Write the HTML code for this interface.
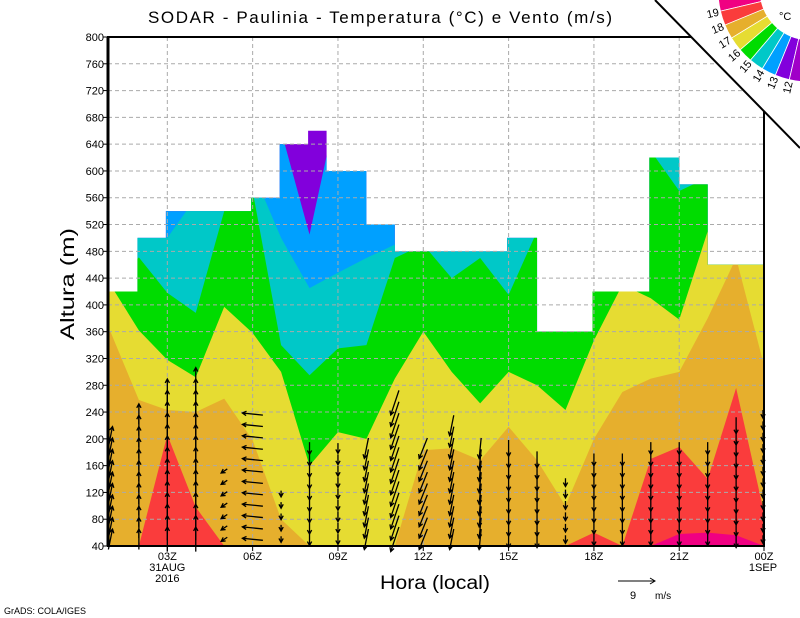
<!DOCTYPE html>
<html><head><meta charset="utf-8"><title>SODAR - Paulinia</title>
<style>html,body{margin:0;padding:0;background:#fff;}svg{display:block;font-family:"Liberation Sans",sans-serif;}</style>
</head><body>
<svg id="chart" width="800" height="618" viewBox="0 0 800 618" xmlns="http://www.w3.org/2000/svg">
<defs><clipPath id="ceilClip"><polygon id="ceilPoly" points="0,0"/></clipPath></defs>
<g id="fills" clip-path="url(#ceilClip)"></g>
<g id="grid"></g>
<g id="winds"></g>
<g id="axes"></g>
<text x="148" y="23" font-size="17" textLength="464" lengthAdjust="spacing">SODAR - Paulinia - Temperatura (°C) e Vento (m/s)</text>
<text transform="translate(74,340) rotate(-90)" font-size="19" textLength="112" lengthAdjust="spacingAndGlyphs">Altura (m)</text>
<text x="380" y="589" font-size="19" textLength="110" lengthAdjust="spacingAndGlyphs">Hora (local)</text>
<g>
<line x1="618" y1="581" x2="655" y2="581" stroke="#000" stroke-width="1"/>
<polyline points="650,578 655,581 650,584" fill="none" stroke="#000"/>
<text x="630" y="599" font-size="11">9</text><text x="655" y="599" font-size="10">m/s</text>
</g>
<text x="4" y="614" font-size="9">GrADS: COLA/IGES</text>
<polygon points="655,0 800,0 800,148" fill="#fff"/>
<line x1="655" y1="0" x2="800" y2="148" stroke="#000" stroke-width="2"/>
<g id="legend"></g>
<text x="779" y="20" font-size="11">°C</text>
</svg>
<script>
// ---- data ----
const hours = [1,2,3,4,5,6,7,8,9,10,11,12,13,14,15,16,17,18,19,20,21,22,23,24];
const ceilEdges = [0.92,1.95,2.95,5.95,6.95,7.95,8.6,10,11,14.95,16,17.95,19.95,21,22,23.95];
const ceilHeights = [420,500,540,560,640,660,600,520,480,500,360,420,620,580,460];
const iso14 = [900,900,900,900,900,900,660,505,700,900,900,900,900,900,900,900,900,900,900,900,900,900,900,900];
const iso15 = [900,510,500,560,600,600,500,425,448,470,490,900,900,900,900,900,900,900,900,900,900,900,900,900];
const iso16 = [430,471,418,388,540,570,340,295,335,340,470,490,440,470,415,510,400,430,430,630,570,590,470,470];
const iso17 = [430,362,318,292,397,358,300,160,210,200,290,360,300,253,300,280,243,347,430,410,378,510,470,470];
const iso18 = [360,258,243,240,260,198,80,40,40,40,40,183,186,168,218,168,100,200,270,290,300,380,470,310];
const iso19 = [40,40,206,98,40,40,40,40,40,40,40,40,40,40,40,40,40,60,40,170,188,140,276,90];
const iso20 = [40,40,40,40,40,40,40,40,40,40,40,40,40,40,40,40,40,40,40,40,58,60,56,40];
const windTop = [210,240,280,300,160,250,124,200,200,198,260,198,220,200,200,180,140,180,180,198,195,198,220,250];
const windU = [1,0,0,0,-1.5,-5,0,0,0,-1,-2,-2,-1,-0.5,0,0,0,0,0,0,0,0,0,0];
const windV = [5,5,6,6,-1,0.5,-1.5,-3,-2.5,-5,-6,-5,-5,-5,-4,-4,-2,-3,-3,-3,-3,-3,-4,-2];
const yTicks = [40,80,120,160,200,240,280,320,360,400,440,480,520,560,600,640,680,720,760,800];
const xTickHours = [3,6,9,12,15,18,21,24];
const xTickLabels = ["03Z","06Z","09Z","12Z","15Z","18Z","21Z","00Z"];
const legendLabels = ["19","18","17","16","15","14","13","12"];
const legendColors = ["#f00082","#fa3c3c","#e6af2d","#e6dc32","#00dc00","#00c8c8","#00a0ff","#8200dc","#a000c8"];

const NS="http://www.w3.org/2000/svg";
const X0=108,X1=764,Y0=37,Y1=546;
function xOf(h){return Math.max(X0,Math.min(X1,82+h*28.44));}
function yOf(m){return Y1-(m-40)*(Y1-Y0)/760;}
function mk(tag,attrs,parent){const e=document.createElementNS(NS,tag);for(const k in attrs)e.setAttribute(k,attrs[k]);parent.appendChild(e);return e;}

// ceiling clip
let cp=[];
for(let i=0;i<ceilHeights.length;i++){cp.push(xOf(ceilEdges[i])+","+yOf(ceilHeights[i]));cp.push(xOf(ceilEdges[i+1])+","+yOf(ceilHeights[i]));}
cp.push(X1+","+Y1);cp.push(X0+","+Y1);
document.getElementById('ceilPoly').setAttribute('points',cp.join(' '));

const fills=document.getElementById('fills');
const base=mk('rect',{x:X0,y:Y0,width:X1-X0,height:Y1-Y0,fill:"#8200dc"},fills);


const layers=[[iso14,"#00a0ff","contour-blue"],[iso15,"#00c8c8","contour-cyan"],[iso16,"#00dc00","contour-green"],[iso17,"#e6dc32","contour-yellow"],[iso18,"#e6af2d","contour-orange"],[iso19,"#fa3c3c","contour-red"],[iso20,"#f00082","contour-pink"]];
layers.forEach(([arr,col,name])=>{
  let pts=[X0+","+Y1, X0+","+yOf(arr[0])];
  hours.forEach((h,i)=>pts.push(xOf(h)+","+yOf(arr[i])));
  pts.push(X1+","+yOf(arr[arr.length-1]));pts.push(X1+","+Y1);
  const p=mk('polygon',{points:pts.join(' '),fill:col},fills);
  
  
});

// grid
const grid=document.getElementById('grid');
yTicks.forEach(t=>{if(t>40&&t<800){const l=mk('line',{x1:X0,x2:X1,y1:yOf(t),y2:yOf(t),stroke:"#aaa","stroke-dasharray":"4,3","stroke-width":1},grid);

}});
xTickHours.forEach(h=>{if(h<24){const l=mk('line',{x1:xOf(h),x2:xOf(h),y1:Y0,y2:Y1,stroke:"#aaa","stroke-dasharray":"4,3","stroke-width":1},grid);

}});

// winds
const winds=document.getElementById('winds');const S=4.1;
hours.forEach((h,i)=>{
  const x=xOf(h)-(h===24?1:0);
  for(let m=50;m<=windTop[i];m+=17){
    const y=yOf(m);const dx=windU[i]*S,dy=-windV[i]*S;
    const x1=x-dx/2,y1=y-dy/2,x2=x+dx/2,y2=y+dy/2;
    const L=Math.hypot(dx,dy)||1,ux=dx/L,uy=dy/L,hl=4.5;
    const a=0.5;
    const hx1=x2-hl*(ux*Math.cos(a)-uy*Math.sin(a)),hy1=y2-hl*(uy*Math.cos(a)+ux*Math.sin(a));
    const hx2=x2-hl*(ux*Math.cos(a)+uy*Math.sin(a)),hy2=y2-hl*(uy*Math.cos(a)-ux*Math.sin(a));
    const p=mk('path',{d:`M${x1},${y1}L${x2},${y2}M${hx1},${hy1}L${x2},${y2}L${hx2},${hy2}`,stroke:"#000",fill:"none","stroke-width":1.3},winds);
    
    
  }
});

// axes
const axes=document.getElementById('axes');
const fr=mk('rect',{x:X0,y:Y0,width:X1-X0,height:Y1-Y0,fill:"none",stroke:"#000","stroke-width":2},axes);


const la=mk('line',{x1:X0,x2:X0,y1:Y0,y2:Y1,stroke:"#000","stroke-width":3},axes);


yTicks.forEach(t=>{
  const tk=mk('line',{x1:X0-5,x2:X0,y1:yOf(t),y2:yOf(t),stroke:"#000"},axes);
  
  
  const tx=mk('text',{x:X0-4,y:yOf(t)+4,"font-size":11,"text-anchor":"end"},axes);tx.textContent=t;
  
  
});
xTickHours.forEach((h,i)=>{
  const x=xOf(h);
  const tk=mk('line',{x1:x,x2:x,y1:Y1,y2:Y1+5,stroke:"#000"},axes);
  
  
  const tx=mk('text',{x:x,y:560,"font-size":11,"text-anchor":"middle"},axes);tx.textContent=xTickLabels[i];
  
  
});
[["31AUG",xOf(3),571],["2016",xOf(3),582],["1SEP",xOf(24)-1,571]].forEach(([s,x,y])=>{
  const tx=mk('text',{x:x,y:y,"font-size":11,"text-anchor":"middle"},axes);tx.textContent=s;
  
  
});

// legend
const lg=document.getElementById('legend');const cx=810,cy=-10,r1=92,r2=50;
const a0=166.7,st=9.1;
function pt(r,a){const t=a*Math.PI/180;return [cx+r*Math.cos(t),cy+r*Math.sin(t)];}
legendColors.forEach((c,i)=>{
  const aa=a0+st-i*st,ab=aa-st;
  const p1=pt(r1,aa),p2=pt(r1,ab),p3=pt(r2,ab),p4=pt(r2,aa);
  const s=mk('path',{d:`M${p1}A${r1},${r1} 0 0 0 ${p2}L${p3}A${r2},${r2} 0 0 1 ${p4}Z`,fill:c,stroke:"#fff","stroke-width":0.8},lg);
  
  
});
legendLabels.forEach((l,i)=>{
  const a=a0-i*st;const [x,y]=pt(100,a);
  const t=mk('text',{x:0,y:4,"font-size":11,"text-anchor":"middle",transform:`translate(${x},${y}) rotate(${a-180})`},lg);t.textContent=l;
  
  
});
</script>
</body></html>
